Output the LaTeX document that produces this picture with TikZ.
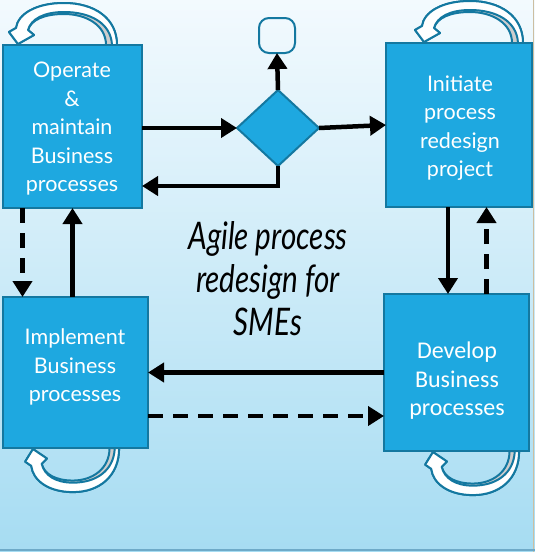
\documentclass[tikz,border=0pt]{standalone}
\usepackage{fontspec}
\setmainfont{Lato}
\newfontfamily\devfont{Carlito}
\newfontfamily\agile[FakeStretch=0.78]{Lato}
\usetikzlibrary{arrows.meta,shapes.geometric,calc}
\definecolor{boxfill}{RGB}{30,168,224}
\definecolor{boxedge}{RGB}{20,120,160}
\definecolor{bgtop}{RGB}{243,250,254}
\definecolor{bgbot}{RGB}{166,220,242}
\definecolor{loopgray}{RGB}{205,205,205}
\definecolor{rimtan}{RGB}{205,190,160}
\definecolor{rimblue}{RGB}{110,170,200}
\tikzset{
  box/.style={draw=boxedge, fill=boxfill, line width=2pt, inner sep=0pt, outer sep=0pt},
  lbl/.style={text=white, align=center, inner sep=0pt},
  arr/.style={line width=4.5pt, -{Triangle[width=19pt,length=16pt]}},
  dsh/.style={dash pattern=on 15pt off 10pt},
  loopback/.style={draw=boxedge, fill=loopgray, line width=2pt, line join=round},
  loopfront/.style={draw=boxedge, fill=white, line width=2pt, line join=round}
}
\newcommand\selfloop[4]{%
  \begin{scope}[shift={(#1,#2)}, xscale=#3, yscale=#4]
    \path[loopback] (53,0) .. controls (53,-27) and (30,-42) .. (0,-42)
      .. controls (-28,-42) and (-46,-31) .. (-48,-17) -- (-55,-13) -- (-46,-1)
      -- (-30,-10) -- (-36,-15) .. controls (-33,-25) and (-20,-31) .. (0,-31)
      .. controls (22,-31) and (42,-20) .. (42,0) -- cycle;
    \path[loopfront] (53,0) .. controls (53,-27) and (30,-42) .. (0,-42)
      .. controls (-28,-42) and (-46,-31) .. (-48,-17) -- (-55,-13) -- (-46,-1)
      -- (-30,-10) -- (-36,-15) .. controls (-33,-26) and (-20,-33) .. (0,-33)
      .. controls (26,-33) and (47,-22) .. (48,0) -- cycle;
  \end{scope}}
\begin{document}
\begin{tikzpicture}[x=1pt,y=-1pt]
\useasboundingbox (0,0) rectangle (535,552);
\fill[top color=bgtop, bottom color=bgbot] (0,0) rectangle (535,552);
\draw[rimtan, line width=1.5pt] (533.5,0) -- (533.5,552);
\draw[rimblue, line width=1.5pt] (0,550) -- (535,550);

% self loops
\selfloop{64}{45}{1}{1}
\selfloop{470}{43}{1}{1}
\selfloop{73}{448}{0.87}{-1.05}
\selfloop{473}{451}{0.87}{-1.05}

% boxes
\node[box, minimum width=139pt, minimum height=163pt] (op) at (72.5,126.5) {};
\node[box, minimum width=146pt, minimum height=164pt] (ini) at (459,125) {};
\node[box, minimum width=145pt, minimum height=151pt] (imp) at (75.5,372.5) {};
\node[box, minimum width=145pt, minimum height=157pt] (dev) at (456.5,372.5) {};
\node[box, diamond, minimum width=82pt, minimum height=76pt] (dia) at (278,128) {};
\node[draw=boxedge, line width=2pt, rounded corners=10pt, minimum width=36pt, minimum height=35pt, inner sep=0pt, outer sep=0pt] (term) at (277,35.5) {};

% labels
\node[lbl, font=\fontsize{21.5}{28.5}\selectfont] (opT) at (72,129) {Operate\\\&\\maintain\\Business\\processes};
\node[lbl, font=\fontsize{21.5}{28.5}\selectfont] (iniT) at (460,128) {Initiate\\process\\redesign\\project};
\node[lbl, font=\fontsize{21.5}{28.5}\selectfont] (impT) at (75,367) {Implement\\Business\\processes};
\node[lbl, font=\devfont\fontsize{24}{28.5}\selectfont] (devT) at (457,381) {Develop\\Business\\processes};
\node[align=center, inner sep=0pt, font=\agile\itshape\fontsize{38}{43}\selectfont] (title) at (268,279) {Agile process\\redesign for\\SMEs};

% connectors
\draw[arr] (op.east |- dia.west) -- (dia.west);
\draw[arr] (dia.north) -- (term.south);
\draw[arr] (dia.east) -- (ini.west);
\coordinate (k1) at ([yshift=-20pt]dia.south);
\draw[arr] (dia.south) -- (k1) -- (k1 -| op.east);
\coordinate (v1) at ([xshift=-50pt]op.south);
\draw[arr, dsh] (v1) -- (v1 |- imp.north);
\coordinate (v2) at ([xshift=-3pt]imp.north);
\draw[arr] (v2) -- (v2 |- op.south);
\coordinate (v3) at ([xshift=-11pt]ini.south);
\draw[arr] (v3) -- (v3 |- dev.north);
\coordinate (v4) at ([xshift=30pt]dev.north);
\draw[arr, dsh] (v4) -- (v4 |- ini.south);
\draw[arr] (dev.west) -- (imp.east);
\coordinate (h1) at ([yshift=-43.5pt]imp.east);
\draw[arr, dsh] (h1) -- (h1 -| dev.west);
\end{tikzpicture}
\end{document}
